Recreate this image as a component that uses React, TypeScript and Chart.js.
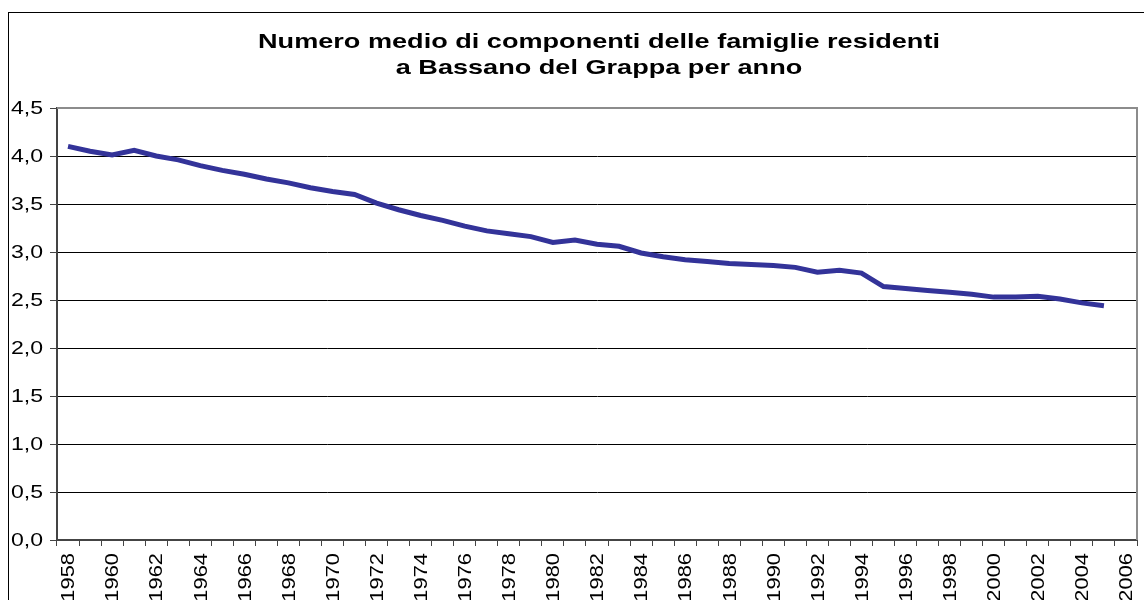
import React, { useEffect, useRef } from "react";
import { Chart, registerables } from "chart.js";

Chart.register(...registerables);

const years: string[] = [
  "1958","1959","1960","1961","1962","1963","1964","1965","1966","1967",
  "1968","1969","1970","1971","1972","1973","1974","1975","1976","1977",
  "1978","1979","1980","1981","1982","1983","1984","1985","1986","1987",
  "1988","1989","1990","1991","1992","1993","1994","1995","1996","1997",
  "1998","1999","2000","2001","2002","2003","2004","2005","2006",
];

const avgMembers: (number | null)[] = [
  4.10, 4.05, 4.01, 4.06, 4.00, 3.96, 3.90, 3.85, 3.81, 3.76,
  3.72, 3.67, 3.63, 3.60, 3.51, 3.44, 3.38, 3.33, 3.27, 3.22,
  3.19, 3.16, 3.10, 3.125, 3.08, 3.06, 2.99, 2.95, 2.92, 2.90,
  2.88, 2.87, 2.86, 2.84, 2.79, 2.81, 2.78, 2.64, 2.62, 2.60,
  2.58, 2.56, 2.53, 2.53, 2.54, 2.51, 2.47, 2.44, null,
];

const titleLines: string[] = [
  "Numero medio di componenti delle famiglie residenti",
  "a Bassano del Grappa per anno",
];

const FONT = "'Liberation Sans', Arial, Helvetica, sans-serif";

const textPlugin = {
  id: "stretchedText",
  afterDraw(chart: any) {
    const { ctx, chartArea } = chart;
    const xs = chart.scales.x;
    const ys = chart.scales.y;
    ctx.save();
    // plot frame (top & right)
    ctx.strokeStyle = "#8c8c8c";
    ctx.lineWidth = 2;
    ctx.beginPath();
    ctx.moveTo(chartArea.left, chartArea.top);
    ctx.lineTo(chartArea.right, chartArea.top);
    ctx.lineTo(chartArea.right, chartArea.bottom);
    ctx.stroke();

    ctx.fillStyle = "#000";
    // title
    const cx = (chartArea.left + chartArea.right) / 2 + 2;
    ctx.font = `bold 21px ${FONT}`;
    ctx.textAlign = "center";
    ctx.textBaseline = "alphabetic";
    titleLines.forEach((line, i) => {
      ctx.save();
      ctx.translate(cx, 35 + i * 26);
      ctx.scale(1.29, 1);
      ctx.fillText(line, 0, 0);
      ctx.restore();
    });

    // y tick labels
    ctx.font = `18px ${FONT}`;
    ctx.textAlign = "right";
    ys.ticks.forEach((t: any) => {
      const y = ys.getPixelForValue(t.value);
      const label = Number(t.value).toFixed(1).replace(".", ",");
      ctx.save();
      ctx.translate(chartArea.left - 14, y + 6.4);
      ctx.scale(1.28, 1);
      ctx.fillText(label, 0, 0);
      ctx.restore();
    });

    // x tick labels
    ctx.font = `17.5px ${FONT}`;
    ctx.textAlign = "right";
    years.forEach((lab, i) => {
      if (i % 2 !== 0) return;
      const x = xs.getPixelForValue(i);
      ctx.save();
      ctx.translate(x, chartArea.bottom + 13);
      ctx.rotate(-Math.PI / 2);
      ctx.scale(1.25, 1);
      ctx.fillText(lab, 0, 6.3);
      ctx.restore();
    });
    ctx.restore();
  },
};

export default function App() {
  const ref = useRef<HTMLCanvasElement>(null);
  useEffect(() => {
    if (!ref.current) return;
    const chart = new Chart(ref.current, {
      type: "line",
      data: {
        labels: years,
        datasets: [
          {
            data: avgMembers,
            borderColor: "#333399",
            backgroundColor: "#333399",
            borderWidth: 5,
            pointRadius: 0,
            tension: 0,
            fill: false,
          },
        ],
      },
      options: {
        animation: false,
        responsive: false,
        maintainAspectRatio: false,
        layout: { padding: { left: 0, right: 7, top: 95, bottom: 0 } },
        plugins: {
          legend: { display: false },
          tooltip: { enabled: false },
          title: { display: false },
        },
        scales: {
          x: {
            type: "category",
            offset: true,
            grid: {
              offset: true,
              drawOnChartArea: false,
              drawTicks: true,
              tickLength: 6,
              tickColor: "#444",
            },
            border: { color: "#444", width: 2 },
            ticks: { display: false, autoSkip: false },
            afterFit: (s: any) => {
              s.height = 60;
            },
          },
          y: {
            min: 0,
            max: 4.5,
            grid: {
              color: "#000",
              lineWidth: 1,
              drawTicks: true,
              tickLength: 7,
              tickColor: "#444",
            },
            border: { color: "#444", width: 2 },
            ticks: { display: false, stepSize: 0.5 },
            afterFit: (s: any) => {
              s.width = 48;
            },
          },
        },
      },
      plugins: [textPlugin],
    });
    return () => chart.destroy();
  }, []);

  return (
    <div style={{ position: "fixed", left: 0, top: 0, width: 1144, height: 600, overflow: "hidden", background: "#fff" }}>
      <div
        style={{
          position: "absolute",
          left: 8,
          top: 12,
          width: 1160,
          height: 620,
          borderTop: "1px solid #000",
          borderLeft: "1px solid #000",
        }}
      >
        <canvas ref={ref} width={1135} height={587} style={{ display: "block" }} />
      </div>
    </div>
  );
}
